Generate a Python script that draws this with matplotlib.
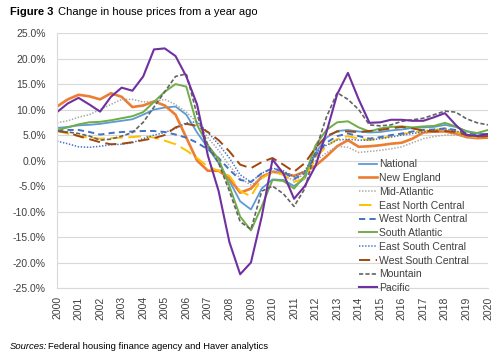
import matplotlib
matplotlib.use("Agg")
import matplotlib.pyplot as plt
import numpy as np

plt.rcParams['font.family'] = ['Liberation Sans', 'DejaVu Sans']
plt.rcParams['lines.scale_dashes'] = False

# half-year points, 2000 -> 2020
anos = np.arange(2000, 2020.01, 0.5)

national = [6.4, 6.6, 6.9, 7.0, 7.2, 7.5, 7.8, 8.1, 9.0, 10.0, 10.4, 10.6, 9.0, 5.5, 2.5, -0.5,
            -4.0, -8.0, -9.6, -5.5, -3.7, -3.8, -5.0, -3.5, 1.5, 4.5, 5.8, 6.0, 5.7, 5.5, 5.6,
            5.9, 6.1, 6.4, 6.5, 6.6, 7.0, 6.6, 5.8, 5.3, 5.2]
new_england = [10.6, 12.0, 12.9, 12.6, 12.0, 13.2, 12.5, 10.5, 10.8, 11.6, 10.8, 9.0, 4.5, 0.0,
               -2.0, -2.0, -3.5, -6.3, -5.5, -3.2, -2.2, -2.5, -3.0, -2.2, -1.0, 0.8, 2.8, 4.0,
               2.7, 2.8, 3.0, 3.3, 3.5, 4.3, 5.5, 5.7, 5.7, 5.3, 4.6, 4.4, 4.5]
mid_atlantic = [7.4, 7.8, 8.5, 9.0, 10.0, 11.0, 12.0, 12.0, 11.5, 11.6, 12.0, 11.0, 9.5, 7.5, 4.5,
                2.0, -1.0, -3.5, -4.8, -3.5, -2.0, -2.8, -4.0, -2.5, 0.0, 1.5, 2.8, 2.6, 1.6, 1.8,
                2.0, 2.3, 2.7, 3.5, 4.3, 4.7, 5.0, 5.0, 4.7, 4.5, 4.7]
east_north = [5.8, 5.3, 4.8, 4.5, 4.3, 4.4, 4.5, 4.6, 4.8, 4.5, 3.9, 3.2, 2.0, 0.5, -1.2, -2.0,
              -3.0, -6.0, -7.0, -3.5, -2.2, -2.8, -4.2, -3.5, 0.5, 2.8, 4.2, 4.8, 4.3, 4.0, 4.3,
              4.8, 5.2, 5.5, 5.8, 6.0, 6.3, 5.7, 4.8, 4.6, 4.7]
west_north = [6.0, 6.0, 6.0, 5.6, 5.1, 5.4, 5.6, 5.7, 5.8, 5.8, 5.6, 5.1, 4.5, 3.5, 2.2, 0.5,
              -1.8, -3.8, -4.2, -2.5, -1.5, -2.2, -3.6, -2.5, 1.0, 3.5, 4.8, 5.3, 4.8, 4.3, 4.6,
              5.0, 5.3, 5.7, 6.0, 6.1, 6.3, 6.0, 5.4, 5.1, 5.2]
south_atlantic = [6.0, 6.5, 7.1, 7.5, 7.6, 7.9, 8.3, 8.7, 9.5, 11.5, 13.5, 15.0, 14.5, 7.0, 3.0,
                  0.3, -5.0, -11.0, -13.7, -9.0, -3.8, -4.0, -5.5, -3.0, 3.0, 6.0, 7.5, 7.7, 6.5,
                  5.7, 6.3, 6.6, 6.7, 6.5, 6.7, 6.8, 7.4, 6.7, 5.7, 5.4, 6.0]
east_south = [3.8, 3.3, 2.7, 2.6, 2.8, 3.1, 3.2, 3.5, 4.3, 5.0, 5.5, 6.3, 7.4, 7.6, 5.5, 3.2,
              0.5, -2.8, -4.2, -2.5, -1.5, -2.0, -3.2, -2.0, 1.5, 3.0, 4.0, 4.2, 4.0, 4.0, 4.3,
              4.6, 5.0, 5.3, 5.6, 5.9, 6.2, 5.8, 5.2, 4.9, 5.0]
west_south = [5.8, 5.5, 4.8, 4.2, 3.6, 3.2, 3.3, 3.6, 4.0, 4.4, 5.0, 6.5, 7.2, 6.8, 5.6, 4.0,
              1.8, -0.8, -1.5, -0.3, 0.5, -0.8, -2.2, -0.5, 2.5, 4.8, 5.7, 5.7, 5.6, 5.8, 6.0,
              6.3, 6.6, 6.3, 5.9, 5.7, 5.8, 5.6, 5.0, 4.7, 4.8]
mountain = [5.8, 5.6, 5.3, 4.8, 4.0, 4.2, 4.8, 5.5, 7.5, 10.5, 13.5, 16.5, 17.0, 9.0, 3.0, -0.5,
            -6.0, -12.0, -13.5, -6.0, -5.0, -6.5, -9.0, -5.5, 2.0, 8.5, 13.3, 12.0, 10.0, 7.0,
            6.8, 7.0, 7.7, 8.0, 8.3, 9.0, 9.7, 9.5, 8.2, 7.4, 7.0]
pacific = [9.5, 11.2, 12.3, 11.0, 9.6, 12.5, 14.3, 13.7, 16.5, 21.8, 22.0, 20.5, 16.5, 11.0, 1.0,
           -6.0, -16.0, -22.3, -20.0, -11.0, 0.2, -2.5, -7.5, -5.0, -1.0, 5.5, 13.0, 17.2, 12.0,
           7.4, 7.5, 8.0, 8.0, 7.8, 7.8, 8.5, 9.3, 7.0, 5.0, 4.8, 5.2]

series = [
    ("National", national, "#5B9BD5", 1.3, "-"),
    ("New England", new_england, "#ED7D31", 1.9, "-"),
    ("Mid-Atlantic", mid_atlantic, "#A5A5A5", 1.1, (0, (1, 1.2))),
    ("East North Central", east_north, "#FFC000", 1.4, (0, (9, 4))),
    ("West North Central", west_north, "#4472C4", 1.4, (0, (4.5, 3))),
    ("South Atlantic", south_atlantic, "#70AD47", 1.4, "-"),
    ("East South Central", east_south, "#4472C4", 1.1, (0, (1, 1.2))),
    ("West South Central", west_south, "#9E480E", 1.4, (0, (8, 4))),
    ("Mountain", mountain, "#636363", 1.2, (0, (3, 1.6))),
    ("Pacific", pacific, "#7030A0", 1.5, "-"),
]

fig = plt.figure(figsize=(5, 3.56), dpi=100)
ax = fig.add_axes([0.114, 0.191, 0.862, 0.716])

for nome, vals, cor, lw, estilo in series:
    ax.plot(anos, vals, color=cor, lw=lw, linestyle=estilo, label=nome)

ax.set_xlim(2000, 2020)
ax.set_ylim(-25, 25)
yt = np.arange(-25, 26, 5)
ax.set_yticks(yt)
ax.set_yticklabels([f"{v:.1f}%" for v in yt], fontsize=7.5, color="#404040")
xt = np.arange(2000, 2021)
ax.set_xticks(xt)
ax.set_xticklabels([str(a) for a in xt], rotation=90, fontsize=7.5, color="#404040")
ax.tick_params(axis="y", length=0, pad=8)
ax.tick_params(axis="x", length=0, pad=6)
ax.grid(axis="y", color="#D9D9D9", lw=0.8)
ax.set_axisbelow(True)
for s in ["top", "right"]:
    ax.spines[s].set_visible(False)
for s in ["left", "bottom"]:
    ax.spines[s].set_color("#D9D9D9")
    ax.spines[s].set_linewidth(0.8)

leg = ax.legend(loc="upper left", bbox_to_anchor=(0.7, 0.505), frameon=False, fontsize=7.5,
                handlelength=1.8, handletextpad=0.15, labelspacing=0.36, borderpad=0,
                borderaxespad=0)
for t in leg.get_texts():
    t.set_color("#404040")

fig.text(0.02, 0.965, "Figure 3", fontsize=8, fontweight="bold", va="center")
fig.text(0.116, 0.965, "Change in house prices from a year ago", fontsize=8, va="center")
fig.text(0.02, 0.028, "Sources:", fontsize=6.8, style="italic", va="center")
fig.text(0.096, 0.028, "Federal housing finance agency and Haver analytics", fontsize=6.8, va="center")

fig.savefig("out.png", dpi=100)
